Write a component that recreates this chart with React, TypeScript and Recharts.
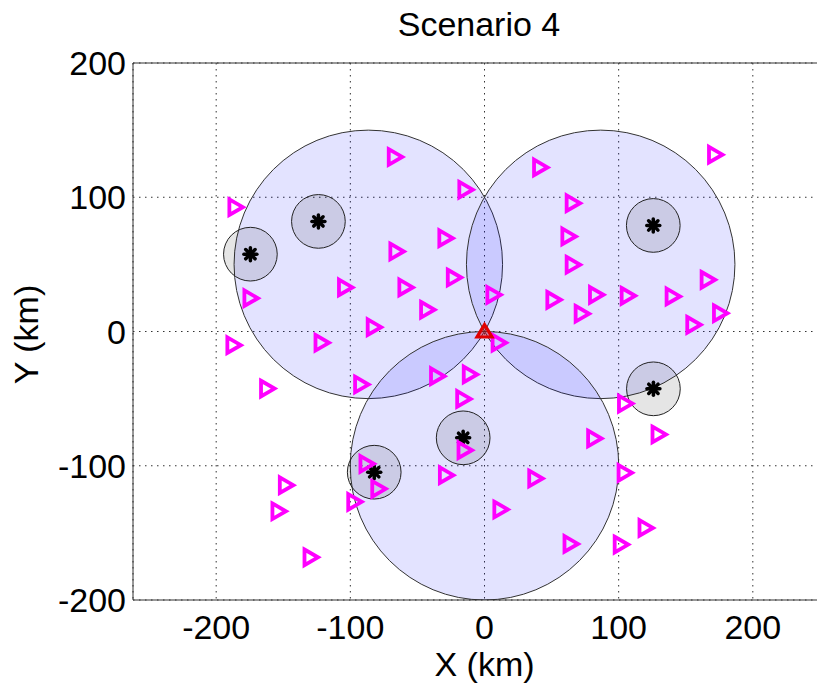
import { ScatterChart, Scatter, XAxis, YAxis, CartesianGrid, ReferenceLine } from "recharts";

// ─── Data (km) ──────────────────────────────────────────────────────────────

const xTicks = [-200, -100, 0, 100, 200];
const yTicks = [-200, -100, 0, 100, 200];

// large coverage circles
const cellX = [-86.6, 86.6, 0];
const cellY = [50, 50, -100];
const cellR = [100, 100, 100];

// base stations (black stars) and their small circles
const stationX = [-174.5, -123.8, 125.8, 125.9, -15.9, -82.2];
const stationY = [57.6, 82, 79, -42.7, -79.2, -104.8];
const stationR = [20, 20, 20, 20, 20, 20];

// users (magenta triangles)
const userX = [
  -66.9, -14.3, -185.7, -29.2, -65.7, -22.9, -104, -59, -174.5, -42.8, -82.6,
  171.8, 41.4, 65.7, 62.5, 65.7, 166.3, 6.6, 51.3, 83.1, 106.7, 140.2, 72.4, 175.5, 155.6,
  -187.2, -121.5, 10.5, -162.1, -92, -35.4, -11, -15.9, 104.7, 81.7, 129.7, -14.9, -88,
  -79.2, -28.8, 37.8, 104.4, -148.1, -97.1, -153.6, 11.8, 120, 64.1, 101.5, -129.7,
];
const userY = [
  130, 105.6, 92.6, 69.5, 59.6, 40.2, 32.8, 32.8, 24.8, 16.2, 3.2,
  131.7, 122.2, 95.6, 70.8, 49.7, 38.5, 27.3, 23.6, 27.3, 26.6, 26.1, 13.2, 13.6, 5,
  -10.2, -8.4, -8.4, -42.5, -39.5, -33.3, -32, -50.2, -53.7, -79.7, -76.7, -88.4, -98.6,
  -117.2, -107, -109.5, -105.3, -114.5, -126.9, -133.9, -132.6, -146.3, -158.2, -158.7, -168.2,
];

// reference point
const originX = [0];
const originY = [0];

// ─── Layout ─────────────────────────────────────────────────────────────────

const CHART_W = 870;
const CHART_H = 689;
const M_TOP = 63;
const M_RIGHT = 34;
const Y_AXIS_W = 133;
const X_AXIS_H = 89;
const PLOT_H = CHART_H - M_TOP - X_AXIS_H;
const PX_PER_KM = PLOT_H / 400;

const FONT = '"Liberation Sans", Arial, Helvetica, sans-serif';

const cells = cellX.map((x, i) => ({ x, y: cellY[i], r: cellR[i] }));
const stations = stationX.map((x, i) => ({ x, y: stationY[i], r: stationR[i] }));
const users = userX.map((x, i) => ({ x, y: userY[i] }));
const origin = originX.map((x, i) => ({ x, y: originY[i] }));

// ─── Shapes ─────────────────────────────────────────────────────────────────

function CellCircle(props: any) {
  const { cx, cy, payload } = props;
  return (
    <circle
      cx={cx}
      cy={cy}
      r={payload.r * PX_PER_KM}
      fill="#0000ff"
      fillOpacity={0.11}
      stroke="#333"
      strokeWidth={1}
    />
  );
}

function StationCircle(props: any) {
  const { cx, cy, payload } = props;
  return (
    <circle
      cx={cx}
      cy={cy}
      r={payload.r * PX_PER_KM}
      fill="#000"
      fillOpacity={0.1}
      stroke="#222"
      strokeWidth={1}
    />
  );
}

function StationStar(props: any) {
  const { cx, cy } = props;
  const s = 6.5;
  const d = s * 0.72;
  return (
    <g stroke="#000" strokeWidth={3.5} strokeLinecap="round">
      <circle cx={cx} cy={cy} r={4.2} fill="#000" stroke="none" />
      <line x1={cx - s} y1={cy} x2={cx + s} y2={cy} />
      <line x1={cx} y1={cy - s} x2={cx} y2={cy + s} />
      <line x1={cx - d} y1={cy - d} x2={cx + d} y2={cy + d} />
      <line x1={cx - d} y1={cy + d} x2={cx + d} y2={cy - d} />
    </g>
  );
}

function UserMark(props: any) {
  const { cx, cy } = props;
  return (
    <polygon
      points={`${cx - 6},${cy - 7.8} ${cx + 7.5},${cy} ${cx - 6},${cy + 7.8}`}
      fill="none"
      stroke="#ff00ff"
      strokeWidth={3.8}
    />
  );
}

function OriginMark(props: any) {
  const { cx, cy } = props;
  return (
    <polygon
      points={`${cx},${cy - 7} ${cx + 7.5},${cy + 5.5} ${cx - 7.5},${cy + 5.5}`}
      fill="#e00000"
      fillOpacity={0.4}
      stroke="#e00000"
      strokeWidth={3.2}
    />
  );
}

// ─── Axis ticks & labels ────────────────────────────────────────────────────

function XTick(props: any) {
  const { x, y, payload } = props;
  return (
    <text x={x} y={y + 39} textAnchor="middle" fontSize={34} fontFamily={FONT} fill="#000">
      {payload.value}
    </text>
  );
}

function YTick(props: any) {
  const { x, y, payload } = props;
  return (
    <text x={x - 7} y={y + 12} textAnchor="end" fontSize={34} fontFamily={FONT} fill="#000">
      {payload.value}
    </text>
  );
}

function YLabel(props: any) {
  const { viewBox } = props;
  const x = viewBox.x + 38;
  const y = viewBox.y + viewBox.height / 2 + 3;
  return (
    <text
      x={x}
      y={y}
      transform={`rotate(-90 ${x} ${y})`}
      textAnchor="middle"
      fontSize={34}
      fontFamily={FONT}
      fill="#000"
    >
      Y (km)
    </text>
  );
}

function XLabel(props: any) {
  const { viewBox } = props;
  const x = viewBox.x + viewBox.width / 2;
  const y = viewBox.y + 76;
  return (
    <text x={x} y={y} textAnchor="middle" fontSize={34} fontFamily={FONT} fill="#000">
      X (km)
    </text>
  );
}

// ─── Chart ──────────────────────────────────────────────────────────────────

export default function App() {
  return (
    <div
      style={{
        position: "absolute",
        left: 0,
        top: 0,
        width: 817,
        height: 689,
        overflow: "hidden",
        background: "#fff",
        fontFamily: FONT,
      }}
    >
      <div
        style={{
          position: "absolute",
          left: 0,
          top: 7,
          width: 958,
          textAlign: "center",
          fontSize: 34,
          lineHeight: "34px",
          color: "#000",
        }}
      >
        Scenario 4
      </div>
      <ScatterChart
        width={CHART_W}
        height={CHART_H}
        margin={{ top: M_TOP, right: M_RIGHT, left: 0, bottom: 0 }}
      >
        <CartesianGrid stroke="#333" strokeDasharray="1.5 4.5" />
        <XAxis
          type="number"
          dataKey="x"
          domain={[-262, 262]}
          ticks={xTicks}
          allowDataOverflow
          height={X_AXIS_H}
          tickLine={false}
          tickSize={0}
          tickMargin={0}
          tick={<XTick />}
          axisLine={{ stroke: "#333" }}
          label={<XLabel />}
        />
        <YAxis
          type="number"
          dataKey="y"
          domain={[-200, 200]}
          ticks={yTicks}
          allowDataOverflow
          width={Y_AXIS_W}
          tickLine={false}
          tickSize={0}
          tickMargin={0}
          tick={<YTick />}
          axisLine={{ stroke: "#333" }}
          label={<YLabel />}
        />
        <ReferenceLine y={200} stroke="#333" />
        <Scatter data={cells} shape={<CellCircle />} isAnimationActive={false} />
        <Scatter data={stations} shape={<StationCircle />} isAnimationActive={false} />
        <Scatter data={stations} shape={<StationStar />} isAnimationActive={false} />
        <Scatter data={users} shape={<UserMark />} isAnimationActive={false} />
        <Scatter data={origin} shape={<OriginMark />} isAnimationActive={false} />
      </ScatterChart>
    </div>
  );
}
